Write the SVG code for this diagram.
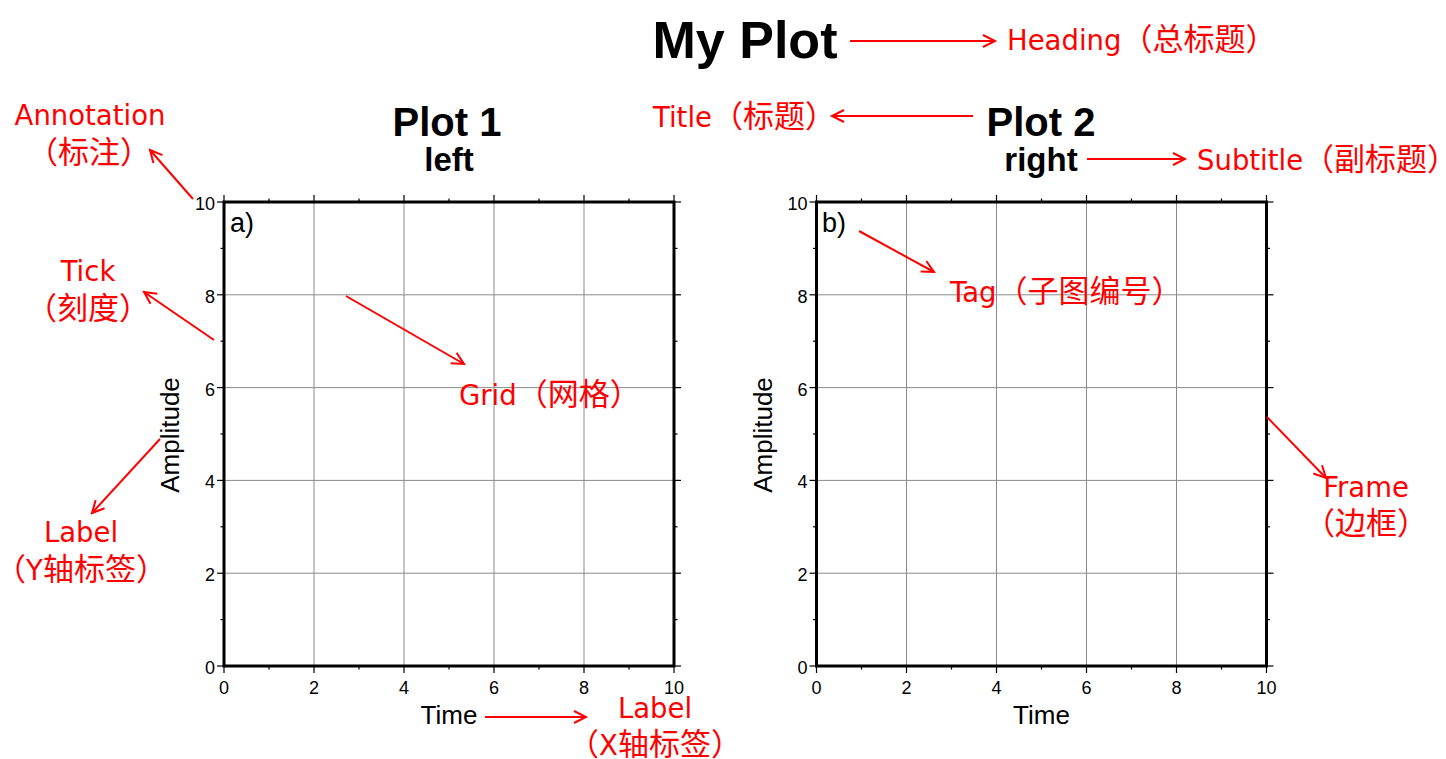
<svg xmlns="http://www.w3.org/2000/svg" width="1446" height="759" viewBox="0 0 1446 759">
<style>
.bk{font-family:"Liberation Sans",Arial,sans-serif;fill:#000}
.b{font-weight:bold}
.num{font-size:18px}
.ax{font-size:26px}
.tag{font-size:27px}
.rd{font-family:"DejaVu Sans","Noto Sans CJK SC",sans-serif;font-size:27.5px;fill:#ff0000}
.cj{font-family:"Noto Sans CJK SC",sans-serif;font-size:31px}
.grid line{stroke:#8a8a8a;stroke-width:1}
.tk line{stroke:#000;stroke-width:1.2}
.frame{fill:none;stroke:#000;stroke-width:3}
.arr line{stroke:#ff0000;stroke-width:2;marker-end:url(#ah)}
</style>
<defs>
<marker id="ah" markerUnits="userSpaceOnUse" markerWidth="16" markerHeight="16" refX="13" refY="7" orient="auto" viewBox="0 0 16 14">
<path d="M1,1 L13,7 L1,13" fill="none" stroke="#ff0000" stroke-width="2"/>
</marker>
<g id="axes">
<g class="grid">
<line x1="90" y1="0" x2="90" y2="464"/><line x1="180" y1="0" x2="180" y2="464"/><line x1="270" y1="0" x2="270" y2="464"/><line x1="360" y1="0" x2="360" y2="464"/>
<line x1="0" y1="92.8" x2="450" y2="92.8"/><line x1="0" y1="185.6" x2="450" y2="185.6"/><line x1="0" y1="278.4" x2="450" y2="278.4"/><line x1="0" y1="371.2" x2="450" y2="371.2"/>
</g>
<g class="tk">
<line x1="-7" y1="0" x2="0" y2="0"/><line x1="-7" y1="92.8" x2="0" y2="92.8"/><line x1="-7" y1="185.6" x2="0" y2="185.6"/><line x1="-7" y1="278.4" x2="0" y2="278.4"/><line x1="-7" y1="371.2" x2="0" y2="371.2"/><line x1="-7" y1="464" x2="0" y2="464"/>
<line x1="-3.5" y1="46.4" x2="0" y2="46.4"/><line x1="-3.5" y1="139.2" x2="0" y2="139.2"/><line x1="-3.5" y1="232" x2="0" y2="232"/><line x1="-3.5" y1="324.8" x2="0" y2="324.8"/><line x1="-3.5" y1="417.6" x2="0" y2="417.6"/>
<line x1="450" y1="0" x2="457" y2="0"/><line x1="450" y1="92.8" x2="457" y2="92.8"/><line x1="450" y1="185.6" x2="457" y2="185.6"/><line x1="450" y1="278.4" x2="457" y2="278.4"/><line x1="450" y1="371.2" x2="457" y2="371.2"/><line x1="450" y1="464" x2="457" y2="464"/>
<line x1="450" y1="46.4" x2="453.5" y2="46.4"/><line x1="450" y1="139.2" x2="453.5" y2="139.2"/><line x1="450" y1="232" x2="453.5" y2="232"/><line x1="450" y1="324.8" x2="453.5" y2="324.8"/><line x1="450" y1="417.6" x2="453.5" y2="417.6"/>
<line x1="0" y1="464" x2="0" y2="471"/><line x1="90" y1="464" x2="90" y2="471"/><line x1="180" y1="464" x2="180" y2="471"/><line x1="270" y1="464" x2="270" y2="471"/><line x1="360" y1="464" x2="360" y2="471"/><line x1="450" y1="464" x2="450" y2="471"/>
<line x1="45" y1="464" x2="45" y2="467.5"/><line x1="135" y1="464" x2="135" y2="467.5"/><line x1="225" y1="464" x2="225" y2="467.5"/><line x1="315" y1="464" x2="315" y2="467.5"/><line x1="405" y1="464" x2="405" y2="467.5"/>
<line x1="0" y1="-7" x2="0" y2="0"/><line x1="90" y1="-7" x2="90" y2="0"/><line x1="180" y1="-7" x2="180" y2="0"/><line x1="270" y1="-7" x2="270" y2="0"/><line x1="360" y1="-7" x2="360" y2="0"/><line x1="450" y1="-7" x2="450" y2="0"/>
<line x1="45" y1="-3.5" x2="45" y2="0"/><line x1="135" y1="-3.5" x2="135" y2="0"/><line x1="225" y1="-3.5" x2="225" y2="0"/><line x1="315" y1="-3.5" x2="315" y2="0"/><line x1="405" y1="-3.5" x2="405" y2="0"/>
</g>
<rect class="frame" x="0" y="0" width="450" height="464"/>
<g class="bk num" text-anchor="end">
<text x="-9" y="8">10</text><text x="-9" y="100.8">8</text><text x="-9" y="193.6">6</text><text x="-9" y="286.4">4</text><text x="-9" y="379.2">2</text><text x="-9" y="472">0</text>
</g>
<g class="bk num" text-anchor="middle">
<text x="0" y="492">0</text><text x="90" y="492">2</text><text x="180" y="492">4</text><text x="270" y="492">6</text><text x="360" y="492">8</text><text x="450" y="492">10</text>
</g>
<text class="bk ax" x="225" y="522" text-anchor="middle">Time</text>
<text class="bk ax" transform="translate(-45,233) rotate(-90)" text-anchor="middle">Amplitude</text>
</g>
</defs>

<text id="heading" class="bk b" x="745" y="58" font-size="52" text-anchor="middle">My Plot</text>

<g id="plot1">
<use href="#axes" transform="translate(224,202)"/>
<text class="bk tag" x="230" y="232">a)</text>
<text class="bk b" x="447" y="136" font-size="40" text-anchor="middle">Plot 1</text>
<text class="bk b" x="449" y="171" font-size="33" text-anchor="middle">left</text>
</g>

<g id="plot2">
<use href="#axes" transform="translate(816.5,202)"/>
<text class="bk tag" x="822" y="232">b)</text>
<text class="bk b" x="1041" y="136" font-size="40" text-anchor="middle">Plot 2</text>
<text class="bk b" x="1041" y="171" font-size="33" text-anchor="middle">right</text>
</g>

<g id="notes">
<text class="rd" x="1007" y="50">Heading<tspan class="cj">（总标题）</tspan></text>
<text class="rd" x="653" y="127">Title<tspan class="cj">（标题）</tspan></text>
<text class="rd" x="1197" y="170">Subtitle<tspan class="cj">（副标题）</tspan></text>
<text class="rd" x="90" y="125" text-anchor="middle">Annotation</text>
<text class="rd" x="89" y="163" text-anchor="middle"><tspan class="cj">（标注）</tspan></text>
<text class="rd" x="88" y="281" text-anchor="middle">Tick</text>
<text class="rd" x="88" y="319" text-anchor="middle"><tspan class="cj">（刻度）</tspan></text>
<text class="rd" x="459" y="405">Grid<tspan class="cj">（网格）</tspan></text>
<text class="rd" x="81" y="542" text-anchor="middle">Label</text>
<text class="rd" x="81" y="580" text-anchor="middle"><tspan class="cj">（</tspan>Y<tspan class="cj">轴标签）</tspan></text>
<text class="rd" x="655" y="718" text-anchor="middle">Label</text>
<text class="rd" x="655" y="755" text-anchor="middle"><tspan class="cj">（</tspan>X<tspan class="cj">轴标签）</tspan></text>
<text class="rd" x="950" y="302">Tag<tspan class="cj">（子图编号）</tspan></text>
<text class="rd" x="1366" y="497" text-anchor="middle">Frame</text>
<text class="rd" x="1366" y="534" text-anchor="middle"><tspan class="cj">（边框）</tspan></text>
</g>

<g id="connectors" class="arr">
<line x1="850" y1="41" x2="995" y2="41"/>
<line x1="973" y1="116" x2="832" y2="116"/>
<line x1="1087" y1="159" x2="1185" y2="159"/>
<line x1="193" y1="199" x2="150" y2="150"/>
<line x1="214" y1="340" x2="144" y2="292"/>
<line x1="346" y1="296" x2="464" y2="364"/>
<line x1="160" y1="439" x2="92" y2="513"/>
<line x1="485" y1="717" x2="586" y2="717"/>
<line x1="859" y1="231" x2="934" y2="272"/>
<line x1="1267" y1="417" x2="1326" y2="478"/>
</g>
</svg>
